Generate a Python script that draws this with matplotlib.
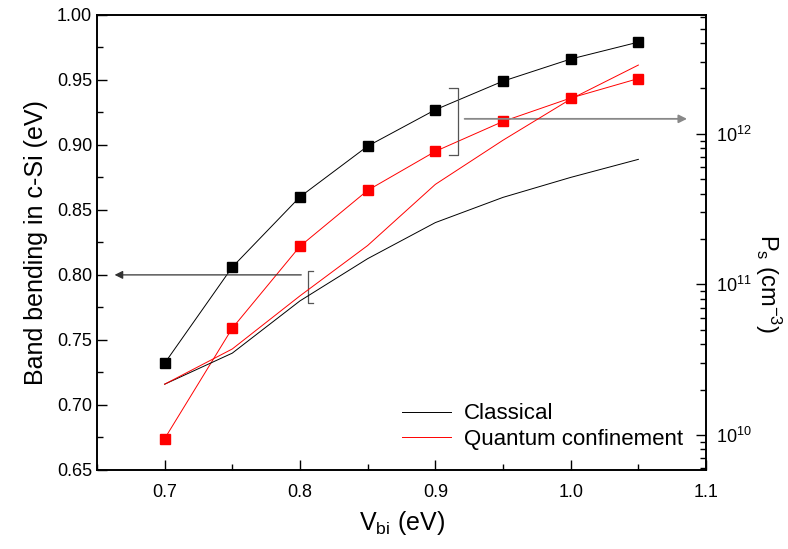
import matplotlib
matplotlib.use('Agg')
import matplotlib.pyplot as plt
from matplotlib.ticker import MultipleLocator, LogLocator, FormatStrFormatter

plt.rcParams['font.family'] = ['Liberation Sans', 'DejaVu Sans']
plt.rcParams['mathtext.default'] = 'regular'

# data
vbi = [0.70, 0.75, 0.80, 0.85, 0.90, 0.95, 1.00, 1.05]
bend_classical = [0.732, 0.806, 0.860, 0.899, 0.927, 0.949, 0.966, 0.979]
bend_quantum = [0.674, 0.759, 0.822, 0.865, 0.895, 0.918, 0.936, 0.951]
ps_classical = [2.17e10, 3.49e10, 7.76e10, 1.48e11, 2.57e11, 3.78e11, 5.13e11, 6.76e11]
ps_quantum = [2.17e10, 3.72e10, 8.38e10, 1.81e11, 4.61e11, 9.06e11, 1.70e12, 2.86e12]

fig = plt.figure(figsize=(7.88, 5.49), dpi=100)
ax = fig.add_axes([0.123, 0.144, 0.773, 0.829])
ax2 = ax.twinx()

# band bending (left axis), square markers
ax.plot(vbi, bend_classical, color='black', lw=0.7, marker='s', ms=7, mec='black')
ax.plot(vbi, bend_quantum, color='red', lw=0.7, marker='s', ms=7, mec='red')

# surface hole density (right axis), plain lines
ax2.plot(vbi, ps_classical, color='black', lw=0.7, label='Classical')
ax2.plot(vbi, ps_quantum, color='red', lw=0.7, label='Quantum confinement')
ax2.set_yscale('log')
ax2.set_ylim(10**9.767, 10**12.79)

ax.set_xlim(0.65, 1.1)
ax.set_ylim(0.65, 1.00)
ax.xaxis.set_major_locator(MultipleLocator(0.1))
ax.xaxis.set_minor_locator(MultipleLocator(0.05))
ax.yaxis.set_major_locator(MultipleLocator(0.05))
ax.yaxis.set_minor_locator(MultipleLocator(0.025))
ax.xaxis.set_major_formatter(FormatStrFormatter('%.1f'))
ax.yaxis.set_major_formatter(FormatStrFormatter('%.2f'))

ax.tick_params(which='both', direction='in', labelsize=13, width=1)
ax.tick_params(which='major', length=7)
ax.tick_params(which='minor', length=4)
ax.tick_params(axis='x', pad=10)
ax2.yaxis.set_minor_locator(LogLocator(base=10, subs=range(2, 10)))
ax2.tick_params(which='both', direction='in', labelsize=13, width=1, pad=7)
ax2.tick_params(which='major', length=7)
ax2.tick_params(which='minor', length=4)
for a in (ax, ax2):
    for s in a.spines.values():
        s.set_linewidth(1.2)

ax.set_xlabel(r'V$_{bi}$ (eV)', fontsize=18, labelpad=6)
ax.set_ylabel('Band bending in c-Si (eV)', fontsize=18, labelpad=6)
ax2.set_ylabel(r'P$_{s}$ (cm$^{-3}$)', fontsize=17, rotation=270)
ax2.yaxis.set_label_coords(1.127, 0.41)

# brackets and arrows pointing at the matching axis
ax.plot([0.8095, 0.8057, 0.8057, 0.8095], [0.803, 0.803, 0.778, 0.778], color='#555555', lw=0.9)
ax.annotate('', xy=(0.661, 0.80), xytext=(0.803, 0.80),
            arrowprops=dict(arrowstyle='-|>', color='#333333', lw=0.9, mutation_scale=12))
ax.plot([0.910, 0.9166, 0.9166, 0.910], [0.944, 0.944, 0.892, 0.892], color='#555555', lw=0.9)
ax.annotate('', xy=(1.088, 0.92), xytext=(0.9196, 0.92),
            arrowprops=dict(arrowstyle='-|>', color='#888888', lw=1.3, mutation_scale=12))

ax2.legend(loc='lower right', bbox_to_anchor=(0.995, 0.0), frameon=False, fontsize=16,
           handlelength=2.2, handletextpad=0.6, labelspacing=0.2)

fig.savefig('out.png', dpi=100)
